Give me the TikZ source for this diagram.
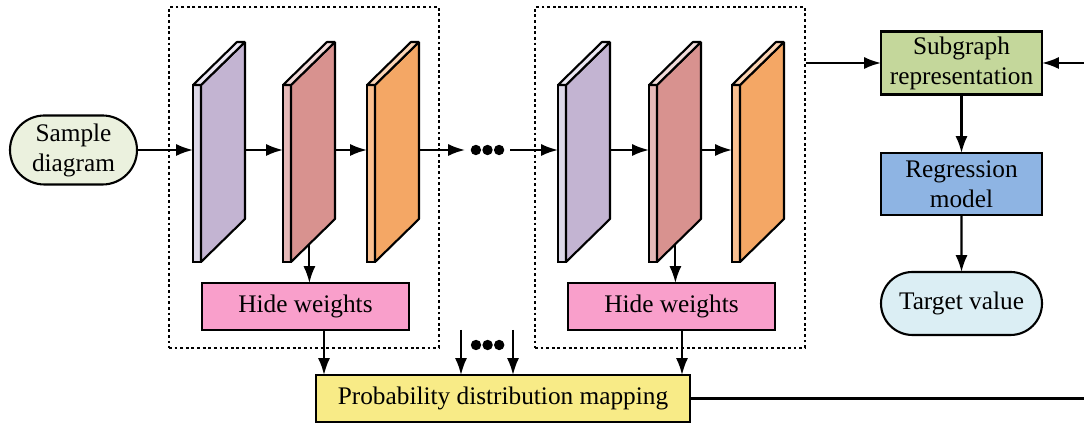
\documentclass[tikz,border=0pt]{standalone}
\usepackage{fontspec}
\setmainfont{Liberation Serif}
\usetikzlibrary{arrows.meta,shapes.misc,calc}
\definecolor{frontpu}{HTML}{DDD8E8}
\definecolor{sidepu}{HTML}{C3B4D2}
\definecolor{toppu}{HTML}{ECE8F3}
\definecolor{frontrd}{HTML}{E6B9B8}
\definecolor{siderd}{HTML}{D8928F}
\definecolor{toprd}{HTML}{F2DCDB}
\definecolor{frontor}{HTML}{FAC090}
\definecolor{sideor}{HTML}{F4A765}
\definecolor{topor}{HTML}{FCD5B5}
\definecolor{samplefill}{HTML}{EBF1DE}
\definecolor{hidefill}{HTML}{F99FCB}
\definecolor{probfill}{HTML}{F8EB87}
\definecolor{subfill}{HTML}{C4D79B}
\definecolor{regfill}{HTML}{8EB4E3}
\definecolor{targetfill}{HTML}{DBEEF4}
\begin{document}
\begin{tikzpicture}[
  line width=1.5pt,
  font=\fontsize{18pt}{21.3pt}\selectfont,
  arr/.style={-{Latex[length=0.42cm,width=0.3cm]}},
  plate/.style={draw,rectangle,inner sep=0pt,outer sep=0pt,minimum width=0.2cm,minimum height=4.425cm},
  face/.style={line join=bevel},
  box/.style={draw,rectangle,align=center,inner sep=0pt,outer sep=0pt},
  pill/.style={draw,rounded rectangle,align=center,inner sep=0pt,outer sep=0pt},
  group/.style={draw,dash pattern=on 2pt off 2pt,line width=1.1pt,inner sep=0pt,minimum width=6.75cm,minimum height=8.525cm},
  dots/.style={inner sep=0pt,outer sep=0pt,minimum width=1.125cm,minimum height=0.3cm}
]
  \useasboundingbox (0,0) rectangle (27.1,10.575);
  \node[group] (g1) at (7.6,6.1375) {};
  \node[group] (g2) at (16.75,6.1375) {};
  \node[pill,fill=samplefill,minimum width=3.175cm,minimum height=1.725cm] (sample) at (1.8375,6.825) {Sample\\diagram};
  \foreach \n/\x/\c in {p1/4.925/pu,p2/7.175/rd,p3/9.275/or,p4/14.05/pu,p5/16.325/rd,p6/18.4/or}{
    \node[plate,fill=front\c] (\n) at (\x,6.2375) {};
    \draw[face,fill=side\c] (\n.north east) -- ++(1.1,1.075) -- ++(0,-4.425) -- (\n.south east) -- cycle;
    \draw[face,fill=top\c] (\n.north west) -- ++(1.1,1.075) -- ++(0.2,0) -- (\n.north east) -- cycle;
    \coordinate (b\n) at ($(\n.east)+(1.1,0)$);
    \path (\n.south east) ++(0.46,0.45) coordinate (d\n);
  }
  \draw[arr] (sample.east) -- (sample.east -| p1.west);
  \draw[arr] (bp1 |- sample.east) -- (sample.east -| p2.west);
  \draw[arr] (bp2 |- sample.east) -- (sample.east -| p3.west);
  \node[dots] (d1) at (12.1875,6.825) {};
  \foreach \i in {-0.29,0,0.29} \fill ($(d1)+(\i,0)$) circle (0.13);
  \draw[arr] (bp3 |- d1) -- (d1.west);
  \draw[arr] (d1.east) -- (d1 -| p4.west);
  \draw[arr] (bp4 |- d1) -- (d1 -| p5.west);
  \draw[arr] (bp5 |- d1) -- (d1 -| p6.west);
  \node[box,fill=hidefill,minimum width=5.175cm,minimum height=1.175cm] (hw1) at (7.6375,2.9125) {Hide weights};
  \node[box,fill=hidefill,minimum width=5.175cm,minimum height=1.175cm] (hw2) at (16.7875,2.9125) {Hide weights};
  \draw[arr] (dp2) -- (dp2 |- hw1.north);
  \draw[arr] (dp5) -- (dp5 |- hw2.north);
  \node[box,fill=probfill,minimum width=9.35cm,minimum height=1.175cm] (prob) at (12.575,0.6125) {Probability distribution mapping};
  \path ([xshift=0.4625cm]hw1.south) coordinate (hw1o);
  \path ([xshift=0.2625cm]hw2.south) coordinate (hw2o);
  \draw[arr] (hw1o) -- (hw1o |- prob.north);
  \draw[arr] (hw2o) -- (hw2o |- prob.north);
  \coordinate (m1) at (11.525,2.325);
  \coordinate (m2) at (12.825,2.325);
  \draw[arr] (m1) -- (m1 |- prob.north);
  \draw[arr] (m2) -- (m2 |- prob.north);
  \node[dots] (d2) at (12.19,1.95) {};
  \foreach \i in {-0.29,0,0.29} \fill ($(d2)+(\i,0)$) circle (0.13);
  \node[box,fill=subfill,minimum width=4.025cm,minimum height=1.575cm] (sub) at (24.0375,9.0) {Subgraph\\representation};
  \node[box,fill=regfill,minimum width=4.025cm,minimum height=1.55cm] (reg) at (24.0375,5.975) {Regression\\model};
  \node[pill,fill=targetfill,minimum width=4.025cm,minimum height=1.575cm] (target) at (24.0375,2.9875) {Target value};
  \draw[arr] (g2.east |- sub.west) -- (sub.west);
  \coordinate (loopin) at (27.1,9.0);
  \coordinate (loopout) at (27.1,0.6125);
  \draw[arr] (loopin) -- (sub.east);
  \draw (prob.east) -- (loopout);
  \draw[arr] (sub) -- (reg);
  \draw[arr] (reg) -- (target);
\end{tikzpicture}
\end{document}
